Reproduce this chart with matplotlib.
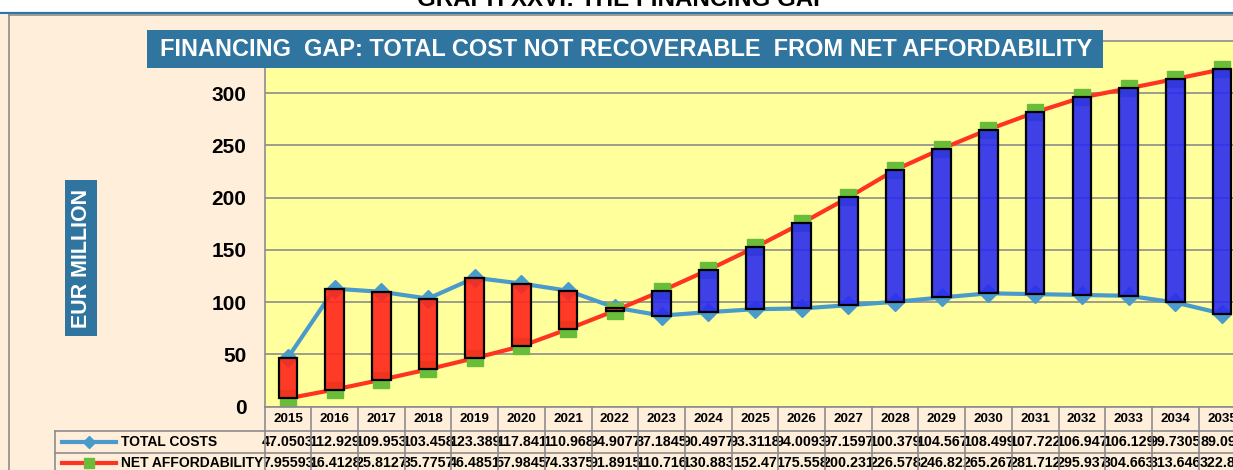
import matplotlib
matplotlib.use("Agg")
import matplotlib.pyplot as plt
from matplotlib.patches import Rectangle
from matplotlib.lines import Line2D
import matplotlib.transforms as mtransforms

years = [str(y) for y in range(2015, 2036)]
total_costs = [47.0503, 112.929, 109.953, 103.458, 123.389, 117.841, 110.968,
               94.9077, 87.1845, 90.4977, 93.3118, 94.0093, 97.1597, 100.379,
               104.567, 108.499, 107.722, 106.947, 106.129, 99.7305, 89.099]
net_afford = [7.95593, 16.4128, 25.8127, 35.7757, 46.4851, 57.9845, 74.3375,
              91.8915, 110.716, 130.883, 152.47, 175.558, 200.231, 226.578,
              246.82, 265.267, 281.712, 295.937, 304.663, 313.646, 322.89]
yticks = [0, 50, 100, 150, 200, 250, 300]
series_names = ["TOTAL COSTS", "NET AFFORDABILITY"]
main_title = "GRAPH XXVI: THE FINANCING GAP"
box_title = "FINANCING  GAP: TOTAL COST NOT RECOVERABLE  FROM NET AFFORDABILITY"
ylabel = "EUR MILLION"

W, H = 1233, 470
FONT = ["Liberation Sans", "DejaVu Sans"]
plt.rcParams["font.family"] = FONT

PEACH = "#FEEEDA"
YELLOW = "#FFFF9C"
GREY = "#8C8C8C"
STEEL = "#2F75A0"
BLUE_LINE = "#4A9BCB"
RED_LINE = "#FF3322"
GREEN = "#6ABD38"
RED_BAR = (1.0, 0.15, 0.10, 0.9)
BLUE_BAR = (0.17, 0.17, 0.94, 0.9)

fig = plt.figure(figsize=(W / 100, H / 100), dpi=100, facecolor="white")


def fx(px):
    return px / W


def fy(py):
    return 1 - py / H


# background panels
fig.add_artist(Rectangle((0, 0), 1, fy(14.5), transform=fig.transFigure,
                         facecolor=PEACH, edgecolor="none", zorder=0))
fig.add_artist(Line2D([0, 1], [fy(12.5), fy(12.5)], transform=fig.transFigure,
                      color=STEEL, lw=1.6, zorder=1))
fig.add_artist(Line2D([fx(9), 1], [fy(14.5), fy(14.5)], transform=fig.transFigure,
                      color=GREY, lw=1.2, zorder=1))
fig.add_artist(Line2D([fx(9), fx(9)], [fy(14.5), 0], transform=fig.transFigure,
                      color=GREY, lw=1.2, zorder=1))

fig.text(fx(623), fy(6.5), main_title, ha="center", va="baseline",
         fontsize=17.4, fontweight="bold", color="black")

# plot axes
ax_left, ax_bottom_px, ax_top_px = 264.6, 406.7, 41.0
cat_w = 46.7
ax = fig.add_axes([fx(ax_left), fy(ax_bottom_px), fx(cat_w * 21), (ax_bottom_px - ax_top_px) / H])
ax.set_facecolor(YELLOW)
n = len(years)
xs = list(range(n))
ax.set_xlim(-0.5, n - 0.5)
ax.set_ylim(0, 350)
ax.set_yticks(yticks)
ax.set_yticklabels([str(v) for v in yticks], fontsize=15, fontweight="bold")
ax.tick_params(axis="y", length=0, pad=13)
ax.set_xticks([])
ax.spines["right"].set_visible(False)
for s in ["top", "left", "bottom"]:
    ax.spines[s].set_color(GREY)
    ax.spines[s].set_linewidth(1.2)
ax.grid(axis="y", color=GREY, lw=1.2, zorder=0)
ax.set_axisbelow(True)

ax.plot(xs, total_costs, color=BLUE_LINE, lw=3.0, marker="D", markersize=9,
        markerfacecolor=BLUE_LINE, markeredgecolor=BLUE_LINE, zorder=2, clip_on=False)
ax.plot(xs, net_afford, color=RED_LINE, lw=3.0, marker="s", markersize=12,
        markerfacecolor=GREEN, markeredgecolor=GREEN, zorder=2, clip_on=True)

bottoms = [min(a, b) for a, b in zip(total_costs, net_afford)]
heights = [abs(a - b) for a, b in zip(total_costs, net_afford)]
colors = [RED_BAR if a > b else BLUE_BAR for a, b in zip(total_costs, net_afford)]
ax.bar(xs, heights, bottom=bottoms, width=0.4, color=colors, edgecolor="black",
       linewidth=1.6, zorder=3)

# title box
fig.add_artist(Rectangle((fx(147), fy(68)), fx(1103 - 147), (68 - 30) / H,
                         transform=fig.transFigure, facecolor=STEEL, edgecolor="none", zorder=5))
fig.text(fx(626), fy(49.5), box_title, ha="center", va="center", fontsize=16.95,
         fontweight="bold", color="white", zorder=6)

# y label box
fig.add_artist(Rectangle((fx(65), fy(336)), fx(97 - 65), (336 - 180) / H,
                         transform=fig.transFigure, facecolor=STEEL, edgecolor="none", zorder=5))
fig.text(fx(81.5), fy(258), ylabel, ha="center", va="center", rotation=90,
         fontsize=15.5, fontweight="bold", color="white", zorder=6)

# data table
trans = mtransforms.blended_transform_factory(ax.transData, fig.transFigure)
for k in range(n + 1):
    x = k - 0.5
    fig.add_artist(Line2D([x, x], [fy(ax_bottom_px), 0], transform=trans,
                          color=GREY, lw=1.2, zorder=4))
for py in [431, 452.5]:
    fig.add_artist(Line2D([fx(55), 1], [fy(py), fy(py)], transform=fig.transFigure,
                          color=GREY, lw=1.2, zorder=4))
fig.add_artist(Line2D([fx(55), fx(55)], [fy(431), 0], transform=fig.transFigure,
                      color=GREY, lw=1.2, zorder=4))

for i, yr in enumerate(years):
    fig.text(i, fy(419), yr, transform=trans, ha="center", va="center",
             fontsize=9.6, fontweight="bold")
    fig.text(i, fy(441.5), "%.6g" % total_costs[i], transform=trans, ha="center",
             va="center", fontsize=10.3, fontweight="bold")
    fig.text(i, fy(463), "%.6g" % net_afford[i], transform=trans, ha="center",
             va="center", fontsize=10.3, fontweight="bold")

# legend keys
fig.add_artist(Line2D([fx(62), fx(116)], [fy(441.5)] * 2, transform=fig.transFigure,
                      color=BLUE_LINE, lw=3.0, zorder=5))
fig.add_artist(Line2D([fx(89)], [fy(441.5)], transform=fig.transFigure, marker="D",
                      markersize=6, color=BLUE_LINE, zorder=6))
fig.add_artist(Line2D([fx(62), fx(116)], [fy(463)] * 2, transform=fig.transFigure,
                      color=RED_LINE, lw=3.0, zorder=5))
fig.add_artist(Line2D([fx(88.5)], [fy(463)], transform=fig.transFigure, marker="s",
                      markersize=6.5, color=GREEN, zorder=6))
fig.text(fx(121), fy(441.5), series_names[0], ha="left", va="center",
         fontsize=10, fontweight="bold")
fig.text(fx(121), fy(463), series_names[1], ha="left", va="center",
         fontsize=10, fontweight="bold")

fig.savefig("out.png", dpi=100, facecolor="white")
